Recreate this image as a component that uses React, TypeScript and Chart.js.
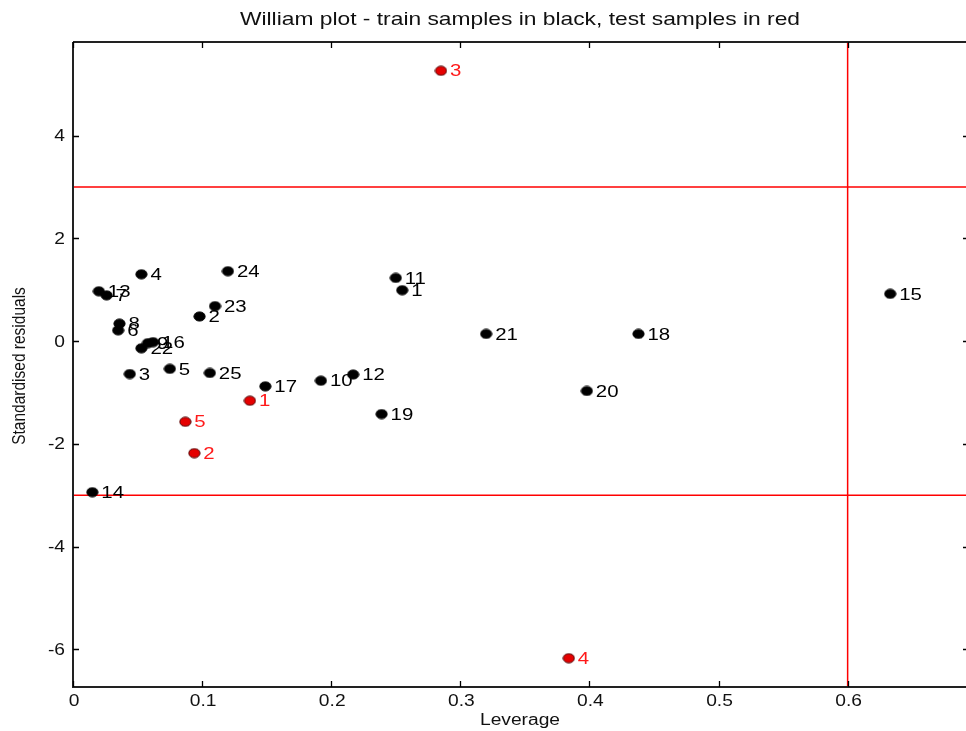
import React, { useEffect, useRef } from "react";
import { Chart, registerables } from "chart.js";

Chart.register(...registerables);

const trainLabels = ["1","2","3","4","5","6","7","8","9","10","11","12","13","14","15","16","17","18","19","20","21","22","23","24","25"];
const trainLeverage = [0.255, 0.098, 0.044, 0.053, 0.075, 0.035, 0.026, 0.036, 0.058, 0.192, 0.250, 0.217, 0.020, 0.015, 0.633, 0.062, 0.149, 0.438, 0.239, 0.398, 0.320, 0.053, 0.110, 0.120, 0.106];
const trainResiduals = [0.99, 0.48, -0.64, 1.30, -0.54, 0.21, 0.89, 0.34, -0.04, -0.77, 1.23, -0.65, 0.97, -2.94, 0.92, -0.02, -0.88, 0.14, -1.42, -0.97, 0.14, -0.14, 0.68, 1.36, -0.62];

const testLabels = ["1","2","3","4","5"];
const testLeverage = [0.137, 0.094, 0.285, 0.384, 0.087];
const testResiduals = [-1.16, -2.18, 5.26, -6.17, -1.57];

const xTicks = [0, 0.1, 0.2, 0.3, 0.4, 0.5, 0.6];
const yTicks = [-6, -4, -2, 0, 2, 4];
const xLimits = [0, 0.694];
const yLimits = [-6.73, 5.82];
const residualLimits = [3, -3];
const leverageLimit = 0.6;

const titleText = "William plot - train samples in black, test samples in red";
const xTitle = "Leverage";
const yTitle = "Standardised residuals";

const FONT = "'Liberation Sans', Arial, Helvetica, sans-serif";
const STRETCH = 1.2;

function makeDot(fill: string, stroke: string) {
  const c = document.createElement("canvas");
  c.width = 13;
  c.height = 11;
  const g = c.getContext("2d")!;
  g.beginPath();
  g.ellipse(6.5, 5.5, 5.6, 4.6, 0, 0, Math.PI * 2);
  g.fillStyle = fill;
  g.fill();
  g.lineWidth = 1;
  g.strokeStyle = stroke;
  g.stroke();
  return c;
}

function stretchedText(ctx: any, text: string, x: number, y: number, align: string) {
  ctx.save();
  ctx.translate(x, y);
  ctx.scale(STRETCH, 1);
  ctx.textAlign = align;
  ctx.fillText(text, 0, 0);
  ctx.restore();
}

export default function App() {
  const ref = useRef<HTMLCanvasElement | null>(null);

  useEffect(() => {
    document.body.style.margin = "0";
    document.body.style.overflow = "hidden";
    const canvas = ref.current;
    if (!canvas) return;

    const blackDot = makeDot("#000000", "#000000");
    const redDot = makeDot("#e50000", "#4a0000");

    const decor = {
      id: "decor",
      afterDatasetsDraw(chart: any) {
        const ctx = chart.ctx;
        const { left, right, top, bottom } = chart.chartArea;
        const xs = chart.scales.x;
        const ys = chart.scales.y;
        ctx.save();
        ctx.textBaseline = "middle";
        // point labels
        ctx.font = `17px ${FONT}`;
        const drawLabels = (dsIndex: number, labels: string[], color: string) => {
          const meta = chart.getDatasetMeta(dsIndex);
          ctx.fillStyle = color;
          meta.data.forEach((el: any, i: number) => {
            stretchedText(ctx, labels[i], el.x + 9, el.y + 1, "left");
          });
        };
        drawLabels(0, trainLabels, "#000000");
        drawLabels(1, testLabels, "#ff1a1a");

        // frame
        ctx.strokeStyle = "#222";
        ctx.lineWidth = 2;
        ctx.beginPath();
        ctx.moveTo(left, top);
        ctx.lineTo(left, bottom);
        ctx.lineTo(right, bottom);
        ctx.lineTo(right, top);
        ctx.lineTo(left, top);
        ctx.stroke();

        // inward ticks
        ctx.lineWidth = 1.3;
        ctx.strokeStyle = "#000";
        ctx.beginPath();
        xTicks.forEach((v) => {
          const px = Math.round(xs.getPixelForValue(v)) + 0.5;
          ctx.moveTo(px, bottom);
          ctx.lineTo(px, bottom - 6);
          ctx.moveTo(px, top);
          ctx.lineTo(px, top + 6);
        });
        yTicks.forEach((v) => {
          const py = Math.round(ys.getPixelForValue(v)) + 0.5;
          ctx.moveTo(left, py);
          ctx.lineTo(left + 6, py);
          ctx.moveTo(right, py);
          ctx.lineTo(right - 6, py);
        });
        ctx.stroke();

        // tick labels
        ctx.fillStyle = "#111";
        ctx.font = `16px ${FONT}`;
        xTicks.forEach((v) => {
          stretchedText(ctx, String(v), xs.getPixelForValue(v) + 1, 702, "center");
        });
        yTicks.forEach((v) => {
          stretchedText(ctx, String(v), 65, ys.getPixelForValue(v) + 1, "right");
        });

        // titles
        ctx.font = `19px ${FONT}`;
        stretchedText(ctx, titleText, 520, 20, "center");
        ctx.font = `16px ${FONT}`;
        stretchedText(ctx, xTitle, 520, 721, "center");
        ctx.save();
        ctx.translate(20, 366);
        ctx.rotate(-Math.PI / 2);
        ctx.scale(1, STRETCH);
        ctx.textAlign = "center";
        ctx.font = `15.5px ${FONT}`;
        ctx.fillText(yTitle, 0, 0);
        ctx.restore();
        ctx.restore();
      },
    };

    const chart = new Chart(canvas, {
      type: "scatter",
      data: {
        datasets: [
          {
            label: "train",
            data: trainLeverage.map((x, i) => ({ x, y: trainResiduals[i] })),
            pointStyle: blackDot,
            order: 0,
          },
          {
            label: "test",
            data: testLeverage.map((x, i) => ({ x, y: testResiduals[i] })),
            pointStyle: redDot,
            order: 0,
          },
          {
            label: "upper",
            type: "line",
            data: [{ x: xLimits[0], y: residualLimits[0] }, { x: xLimits[1], y: residualLimits[0] }],
            borderColor: "#ff0000",
            borderWidth: 1.5,
            pointRadius: 0,
            order: 2,
          },
          {
            label: "lower",
            type: "line",
            data: [{ x: xLimits[0], y: residualLimits[1] }, { x: xLimits[1], y: residualLimits[1] }],
            borderColor: "#ff0000",
            borderWidth: 1.5,
            pointRadius: 0,
            order: 2,
          },
          {
            label: "hstar",
            type: "line",
            data: [{ x: leverageLimit, y: yLimits[0] }, { x: leverageLimit, y: yLimits[1] }],
            borderColor: "#ff0000",
            borderWidth: 1.5,
            pointRadius: 0,
            order: 2,
          },
        ],
      } as any,
      options: {
        responsive: false,
        animation: false,
        layout: { padding: { top: 42, left: 0, right: 0, bottom: 0 } },
        plugins: {
          legend: { display: false },
          tooltip: { enabled: false },
          title: { display: false },
        },
        scales: {
          x: {
            type: "linear",
            min: xLimits[0],
            max: xLimits[1],
            grid: { display: false },
            border: { display: false },
            afterBuildTicks: (s: any) => {
              s.ticks = xTicks.map((v) => ({ value: v }));
            },
            afterFit: (s: any) => {
              s.height = 44;
            },
            ticks: { display: false },
          },
          y: {
            type: "linear",
            min: yLimits[0],
            max: yLimits[1],
            grid: { display: false },
            border: { display: false },
            afterBuildTicks: (s: any) => {
              s.ticks = yTicks.map((v) => ({ value: v }));
            },
            afterFit: (s: any) => {
              s.width = 73;
            },
            ticks: { display: false },
          },
        },
      } as any,
      plugins: [decor],
    });

    return () => chart.destroy();
  }, []);

  return (
    <div style={{ width: 966, height: 731, overflow: "hidden" }}>
      <canvas ref={ref} width={974} height={731} style={{ display: "block" }} />
    </div>
  );
}
